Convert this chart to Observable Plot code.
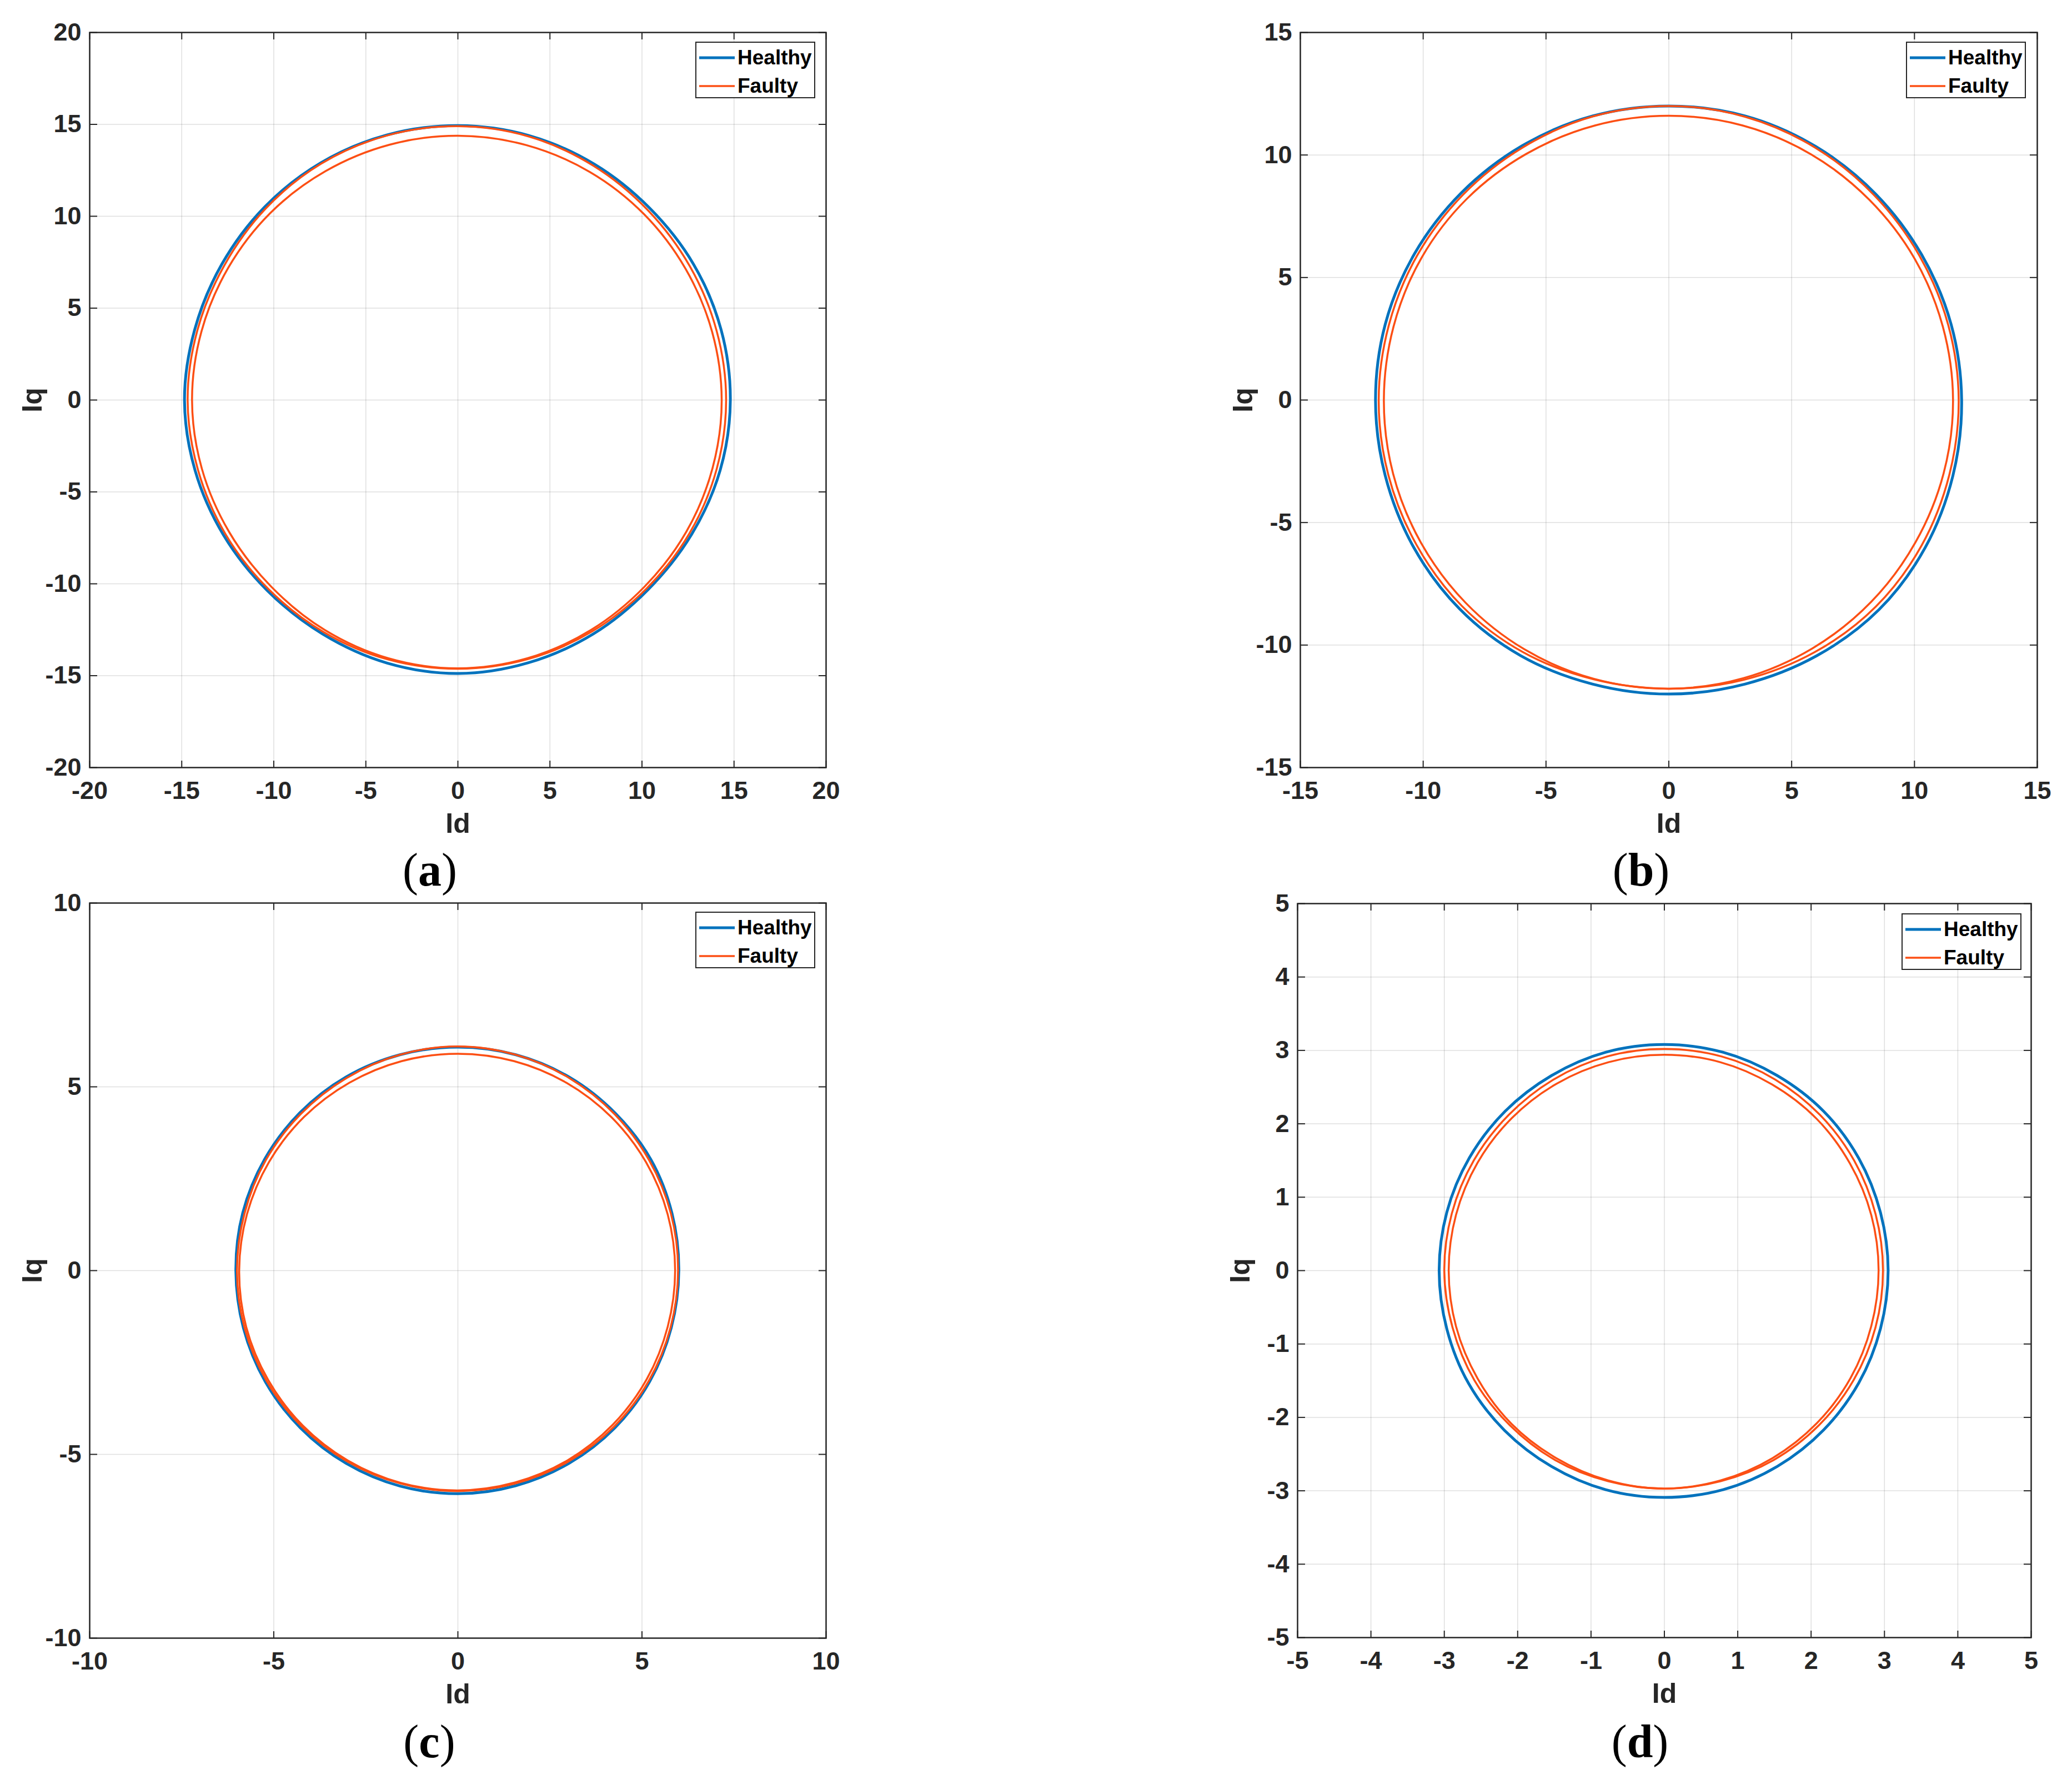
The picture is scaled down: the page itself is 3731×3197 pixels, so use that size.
<!DOCTYPE html>
<html>
<head>
<meta charset="utf-8">
<script src="https://cdn.jsdelivr.net/npm/d3@7"></script>
<script src="https://cdn.jsdelivr.net/npm/@observablehq/plot@0.6"></script>
<style>
  html, body { margin: 0; padding: 0; background: #fff; }
  body { width: 3731px; height: 3197px; position: relative; overflow: hidden; }
  .panel { position: absolute; }
  .legend { position: absolute; width: 216px; height: 102px; box-sizing: border-box; border: 2px solid #262626; background: #fff;
            font: bold 37px "Liberation Sans", Arial, sans-serif; color: #000; z-index: 5; }
  .legend .row { position: absolute; left: 0; height: 40px; display: flex; align-items: center; }
  .legend svg { display: block; }
  .cap { position: absolute; font: 84px "Liberation Serif", "DejaVu Serif", serif; color: #000; transform: translate(-50%, -50%); z-index: 5; white-space: nowrap; }
  .cap b { font-weight: bold; }
</style>
</head>
<body>
<script>
// ---------------- data ----------------
const angleDeg = [0,15,30,45,60,75,90,105,120,135,150,165,180,195,210,225,240,255,270,285,300,315,330,345];
const seriesNames = ["Healthy", "Faulty"];

// (a)
const aTicks = [-20,-15,-10,-5,0,5,10,15,20];
const aHealthy     = [14.8,14.8,14.78,14.75,14.82,14.9,14.93,14.93,14.9,14.85,14.8,14.8,14.85,14.78,14.7,14.65,14.7,14.82,14.88,14.8,14.7,14.6,14.65,14.75];
const aFaultyOuter = [14.57,14.55,14.55,14.6,14.72,14.85,14.9,14.9,14.85,14.75,14.65,14.65,14.68,14.62,14.58,14.55,14.58,14.62,14.62,14.6,14.55,14.5,14.52,14.55];
const aFaultyInner = [14.33,14.3,14.28,14.3,14.33,14.36,14.38,14.38,14.38,14.4,14.4,14.42,14.44,14.4,14.35,14.35,14.45,14.55,14.6,14.55,14.45,14.35,14.33,14.32];

// (b)
const bTicks = [-15,-10,-5,0,5,10,15];
const bHealthy     = [11.92,11.9,11.88,11.9,11.95,12.0,12.0,12.0,11.97,11.95,11.95,11.95,11.94,11.95,12.0,12.05,12.05,12.0,12.0,12.0,12.05,12.1,12.05,11.97];
const bFaultyOuter = [11.8,11.78,11.78,11.82,11.9,11.97,12.0,11.98,11.9,11.85,11.82,11.8,11.81,11.82,11.85,11.9,11.88,11.8,11.78,11.82,11.88,11.92,11.88,11.82];
const bFaultyInner = [11.57,11.55,11.55,11.55,11.58,11.6,11.6,11.6,11.6,11.62,11.62,11.6,11.6,11.62,11.65,11.7,11.75,11.78,11.78,11.75,11.7,11.65,11.6,11.58];

// (c)
const cTicks = [-10,-5,0,5,10];
const cHealthy     = [6.0,6.02,6.05,6.05,6.07,6.08,6.08,6.08,6.08,6.07,6.06,6.05,6.03,6.03,6.04,6.05,6.06,6.07,6.07,6.06,6.05,6.04,6.02,6.0];
const cFaultyOuter = [5.98,5.99,6.0,6.02,6.05,6.08,6.1,6.08,6.05,6.03,6.02,6.0,6.0,6.0,6.0,6.0,6.0,6.0,6.0,6.0,6.0,6.0,5.99,5.98];
const cFaultyInner = [5.9,5.9,5.9,5.9,5.9,5.9,5.9,5.9,5.9,5.91,5.92,5.93,5.94,5.95,5.95,5.96,5.97,5.98,5.98,5.97,5.96,5.94,5.92,5.9];

// (d)
const dTicks = [-5,-4,-3,-2,-1,0,1,2,3,4,5];
const dHealthy     = [3.05,3.05,3.06,3.07,3.07,3.08,3.08,3.08,3.07,3.07,3.07,3.07,3.07,3.07,3.08,3.08,3.08,3.09,3.09,3.09,3.08,3.07,3.06,3.05];
const dFaultyOuter = [2.98,2.98,2.99,3.0,3.01,3.02,3.02,3.02,3.01,3.0,3.0,3.0,3.0,2.99,2.99,2.98,2.98,2.97,2.97,2.97,2.98,2.98,2.98,2.98];
const dFaultyInner = [2.92,2.92,2.92,2.93,2.93,2.94,2.94,2.94,2.94,2.94,2.94,2.94,2.94,2.94,2.94,2.95,2.95,2.96,2.97,2.96,2.95,2.94,2.93,2.92];

const captionLetters = ["a", "b", "c", "d"];
const xLabel = "Id", yLabel = "Iq";

// ---------------- styling ----------------
const BLUE = "#0072BD", ORANGE = "#FC4F14", INK = "#262626";

function loopRows(radii, loopName) {
  return radii.map((r, i) => ({
    x: r * Math.cos(angleDeg[i] * Math.PI / 180),
    y: r * Math.sin(angleDeg[i] * Math.PI / 180),
    loop: loopName
  }));
}

const panels = [
  {ticks: aTicks, healthy: [aHealthy], faulty: [aFaultyOuter, aFaultyInner], left: 0, top: 0, ml: 161, mt: 58, pw: 1326, ph: 1324, mr: 73,
   legend: [1252, 75], cap: [774, 1566]},
  {ticks: bTicks, healthy: [bHealthy], faulty: [bFaultyOuter, bFaultyInner], left: 2180, top: 0, ml: 161, mt: 58, pw: 1327, ph: 1324, mr: 63,
   legend: [3432, 75], cap: [2955, 1566]},
  {ticks: cTicks, healthy: [cHealthy], faulty: [cFaultyOuter, cFaultyInner], left: 0, top: 1568, ml: 161, mt: 58, pw: 1326, ph: 1324, mr: 73,
   legend: [1252, 1642], cap: [773, 3136]},
  {ticks: dTicks, healthy: [dHealthy], faulty: [dFaultyOuter, dFaultyInner], left: 2175, top: 1569, ml: 161, mt: 58, pw: 1321, ph: 1322, mr: 74,
   legend: [3424, 1645], cap: [2953, 3136]}
];

const fmt = d => String(d);

panels.forEach((p, idx) => {
  const mb = 150;
  const dom = [p.ticks[0], p.ticks[p.ticks.length - 1]];
  const healthyRows = p.healthy.flatMap((r, k) => loopRows(r, "h" + k));
  const faultyRows = p.faulty.flatMap((r, k) => loopRows(r, "f" + k));
  const tickFont = {fontSize: 45, fontWeight: "bold", fill: INK};
  const chart = Plot.plot({
    width: p.ml + p.pw + p.mr,
    height: p.mt + p.ph + mb,
    marginLeft: p.ml, marginRight: p.mr, marginTop: p.mt, marginBottom: mb,
    x: {domain: dom},
    y: {domain: dom},
    style: {fontFamily: "'Liberation Sans', Arial, sans-serif", background: "transparent", overflow: "visible"},
    marks: [
      Plot.gridX(p.ticks, {stroke: INK, strokeOpacity: 0.15, strokeWidth: 1.5}),
      Plot.gridY(p.ticks, {stroke: INK, strokeOpacity: 0.15, strokeWidth: 1.5}),
      Plot.line(healthyRows, {x: "x", y: "y", z: "loop", stroke: BLUE, strokeWidth: 5, curve: "catmull-rom-closed"}),
      Plot.line(faultyRows, {x: "x", y: "y", z: "loop", stroke: ORANGE, strokeWidth: 3.5, curve: "catmull-rom-closed"}),
      // inward tick marks on all four sides
      Plot.axisX(p.ticks, {anchor: "top", tickSize: 13, dy: p.ph, fill: "none", label: null, stroke: INK, strokeWidth: 2}),
      Plot.axisX(p.ticks, {anchor: "bottom", tickSize: 13, dy: -p.ph, fill: "none", label: null, stroke: INK, strokeWidth: 2}),
      Plot.axisY(p.ticks, {anchor: "right", tickSize: 13, dx: -p.pw, fill: "none", label: null, stroke: INK, strokeWidth: 2}),
      Plot.axisY(p.ticks, {anchor: "left", tickSize: 13, dx: p.pw, fill: "none", label: null, stroke: INK, strokeWidth: 2}),
      // tick labels
      Plot.axisX(p.ticks, {anchor: "bottom", tickSize: 0, tickPadding: 25, tickFormat: fmt, label: null, ...tickFont}),
      Plot.axisY(p.ticks, {anchor: "left", tickSize: 0, tickPadding: 15, tickFormat: fmt, label: null, ...tickFont}),
      // axis titles
      Plot.axisX([], {anchor: "bottom", tickSize: 0, label: xLabel, labelAnchor: "center", labelOffset: 117, labelArrow: "none", fontSize: 50, fontWeight: "bold", fill: INK}),
      Plot.axisY([], {anchor: "left", tickSize: 0, label: yLabel, labelAnchor: "center", labelOffset: 122, labelArrow: "none", fontSize: 50, fontWeight: "bold", fill: INK}),
      Plot.frame({stroke: INK, strokeWidth: 2.5})
    ]
  });
  chart.classList.add("panel");
  chart.style.left = p.left + "px";
  chart.style.top = p.top + "px";
  chart.style.position = "absolute";
  document.body.appendChild(chart);

  // legend
  const lg = document.createElement("div");
  lg.className = "legend";
  lg.style.left = p.legend[0] + "px";
  lg.style.top = p.legend[1] + "px";
  const colors = [BLUE, ORANGE], widths = [5, 3.5];
  seriesNames.forEach((name, i) => {
    const row = document.createElement("div");
    row.className = "row";
    row.style.top = (7 + i * 51) + "px";
    row.innerHTML = `<svg width="74" height="40"><line x1="5" x2="69" y1="20" y2="20" stroke="${colors[i]}" stroke-width="${widths[i]}"/></svg><span>${name}</span>`;
    lg.appendChild(row);
  });
  document.body.appendChild(lg);

  // caption
  const cap = document.createElement("div");
  cap.className = "cap";
  cap.style.left = p.cap[0] + "px";
  cap.style.top = p.cap[1] + "px";
  cap.innerHTML = `(<b>${captionLetters[idx]}</b>)`;
  document.body.appendChild(cap);
});
</script>
</body>
</html>
